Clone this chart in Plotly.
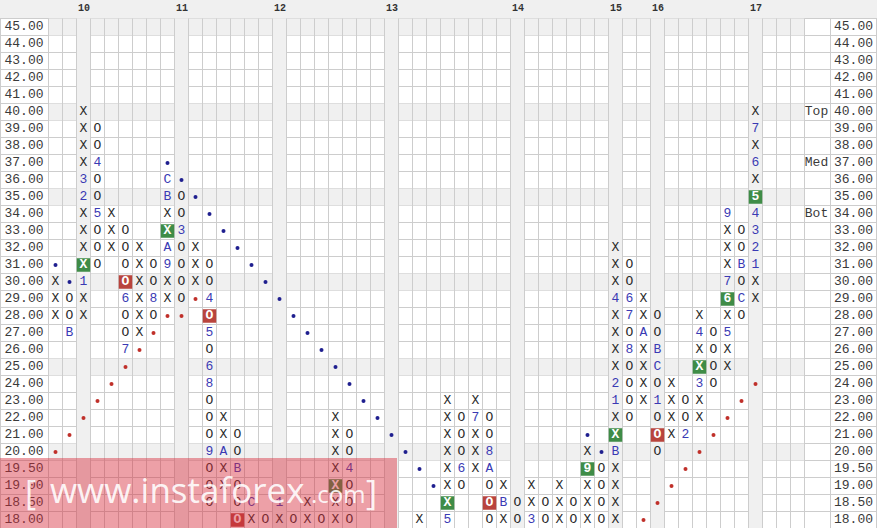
import plotly.graph_objects as go

# ---------------- data ----------------
LEVELS = [45, 44, 43, 42, 41, 40, 39, 38, 37, 36, 35, 34, 33, 32, 31, 30,
          29, 28, 27, 26, 25, 24, 23, 22, 21, 20, 19.5, 19, 18.5, 18]
LEVEL_LABELS = [f"{v:.2f}" for v in LEVELS]

# point & figure columns (column index, kind, lowest box, highest box)
COL_POS = [0, 1, 2, 3, 4, 5, 6, 7, 8, 9, 10, 11, 12, 13, 14, 15, 16, 17, 18, 19, 20, 21,
           26, 28, 29, 30, 31, 32, 33, 34, 35, 36, 37, 38, 39, 40, 41, 42, 43, 44, 45,
           46, 47, 48, 49, 50]
COL_KIND = ["X", "O", "X", "O", "X", "O", "X", "O", "X", "O", "X", "O", "X", "O", "X", "O",
            "X", "O", "X", "O", "X", "O",
            "X", "X", "O", "X", "O", "X", "O", "X", "O", "X", "O", "X", "O", "X", "O", "X",
            "O", "X", "O", "X", "O", "X", "O", "X"]
COL_LOW = [28, 27, 28, 31, 32, 26, 27, 28, 29, 29, 30, 18.5, 19, 18, 18, 18, 18, 18, 18, 18,
           18, 18, 18, 18, 19, 19.5, 18, 18, 18, 18, 18, 18, 18, 18, 18, 18, 22, 23, 20, 21,
           21, 22, 24, 25, 28, 29]
COL_HIGH = [30, 29, 40, 39, 34, 33, 32, 31, 36, 35, 32, 31, 22, 21, 18.5, 18, 18.5, 18, 18.5,
            18, 22, 21, 18, 23, 22, 23, 22, 19, 18.5, 19, 18.5, 19, 18.5, 20, 19.5, 32, 31,
            29, 28, 24, 23, 28, 27, 34, 33, 40]

# month markers (column, price, label)
MONTH_COL = [1, 2, 2, 2, 3, 3, 5, 5, 7, 8, 8, 8, 8, 9, 11, 11, 11, 11, 11, 12, 13, 14, 16,
             21, 28, 29, 30, 31, 31, 32, 34, 38, 40, 40, 40, 40, 41, 41, 41, 42, 43, 43, 43,
             45, 46, 46, 48, 48, 48, 48, 49, 49, 50, 50, 50, 50, 50, 50, 50]
MONTH_PRICE = [27, 36, 35, 30, 37, 34, 29, 26, 29, 36, 35, 32, 31, 33, 29, 27, 25, 24, 20, 20,
               19.5, 18.5, 18.5, 19.5, 18, 19.5, 22, 20, 19.5, 18.5, 18, 19.5, 20, 23, 24, 29,
               29, 28, 26, 27, 26, 25, 23, 21, 24, 27, 27, 29, 30, 34, 31, 29, 31, 32, 33, 34,
               35, 37, 39]
MONTH_TEXT = ["B", "3", "2", "1", "4", "5", "6", "7", "8", "C", "B", "A", "9", "3", "4", "5",
              "6", "8", "9", "A", "B", "C", "1", "4", "5", "6", "7", "8", "A", "B", "3", "9",
              "B", "1", "2", "4", "6", "7", "8", "A", "B", "C", "1", "2", "3", "4", "5", "6",
              "7", "9", "B", "C", "1", "2", "3", "4", "5", "6", "7"]

GREEN_COL = [2, 8, 20, 28, 38, 40, 46, 48, 50]
GREEN_PRICE = [31, 33, 19, 18.5, 19.5, 21, 25, 29, 35]
RED_COL = [5, 11, 13, 31, 43]
RED_PRICE = [30, 28, 18, 18.5, 21]

BLUE_DOT_COL = [0, 1, 8, 9, 10, 11, 12, 13, 14, 15, 16, 17, 18, 19, 20, 21, 22, 23, 24, 25,
                26, 27, 38, 39]
BLUE_DOT_PRICE = [31, 30, 37, 36, 35, 34, 33, 32, 31, 30, 29, 28, 27, 26, 25, 24, 23, 22, 21,
                  20, 19.5, 19, 21, 20]
RED_DOT_COL = [0, 1, 2, 3, 4, 5, 6, 7, 8, 9, 10, 42, 43, 44, 45, 46, 47, 48, 49, 50]
RED_DOT_PRICE = [20, 21, 22, 23, 24, 25, 26, 27, 28, 28, 29, 18, 18.5, 19, 19.5, 20, 21, 22,
                 23, 24]

YEAR_COLS = [2, 9, 16, 24, 33, 40, 43, 50]
YEAR_TEXT = ["10", "11", "12", "13", "14", "15", "16", "17"]
TAG_PRICE = [40, 37, 34]
TAG_TEXT = ["Top", "Med", "Bot"]

# ---------------- layout constants ----------------
W, H = 877, 528
N_COLS = 54
MONO = "Courier New, Liberation Mono, monospace"
GRID = "#cdcdcd"
SHADE = "#f0f0f0"
INK = "#2a2a2a"
BLUE = "#3a3ab4"
GREEN = "#3f8c47"
RED = "#b9443d"
X_RANGE = [(0 - 55.5) / 14, (W - 55.5) / 14]
Y_RANGE = [(H - 27) / 17, (0 - 27) / 17]
LEFT_X = (24 - 55.5) / 14
RIGHT_X = (853.5 - 55.5) / 14
TAG_X = (816.5 - 55.5) / 14


def lab(v):
    return f"{v:.2f}"


# build cell contents
cells = {}
for c, k, lo, hi in zip(COL_POS, COL_KIND, COL_LOW, COL_HIGH):
    for v in LEVELS:
        if lo <= v <= hi:
            cells[(c, v)] = k
months = {(c, p): t for c, p, t in zip(MONTH_COL, MONTH_PRICE, MONTH_TEXT)}
boxes = set(zip(GREEN_COL, GREEN_PRICE)) | set(zip(RED_COL, RED_PRICE))

plain_x, plain_y, plain_t = [], [], []
for (c, v), k in cells.items():
    if (c, v) in months or (c, v) in boxes:
        continue
    plain_x.append(c); plain_y.append(lab(v)); plain_t.append(k)
mon_x, mon_y, mon_t = [], [], []
for (c, v), t in months.items():
    if (c, v) in boxes:
        continue
    mon_x.append(c); mon_y.append(lab(v)); mon_t.append(t)
box_x, box_y, box_t = [], [], []
for (c, v) in boxes:
    box_x.append(c); box_y.append(lab(v)); box_t.append(months.get((c, v), cells.get((c, v), "")))

fig = go.Figure()

fig.add_trace(go.Scatter(x=GREEN_COL, y=[lab(v) for v in GREEN_PRICE], mode="markers",
                         marker=dict(symbol="square", size=13.5, color=GREEN, line=dict(width=0)),
                         hoverinfo="skip"))
fig.add_trace(go.Scatter(x=RED_COL, y=[lab(v) for v in RED_PRICE], mode="markers",
                         marker=dict(symbol="square", size=13.5, color=RED, line=dict(width=0)),
                         hoverinfo="skip"))
fig.add_trace(go.Scatter(x=plain_x, y=plain_y, text=plain_t, mode="text",
                         textfont=dict(family=MONO, size=13, color=INK), hoverinfo="skip"))
fig.add_trace(go.Scatter(x=mon_x, y=mon_y, text=mon_t, mode="text",
                         textfont=dict(family=MONO, size=13, color=BLUE), hoverinfo="skip"))
fig.add_trace(go.Scatter(x=box_x, y=box_y, text=[f"<b>{t}</b>" for t in box_t], mode="text",
                         textfont=dict(family=MONO, size=13, color="white"), hoverinfo="skip"))
fig.add_trace(go.Scatter(x=BLUE_DOT_COL, y=[lab(v) for v in BLUE_DOT_PRICE], mode="markers",
                         marker=dict(symbol="circle", size=4, color="#1f1f8f"), hoverinfo="skip"))
fig.add_trace(go.Scatter(x=RED_DOT_COL, y=[lab(v) for v in RED_DOT_PRICE], mode="markers",
                         marker=dict(symbol="circle", size=4, color="#c0302a"), hoverinfo="skip"))
# price labels
fig.add_trace(go.Scatter(x=[LEFT_X] * len(LEVELS), y=LEVEL_LABELS, text=LEVEL_LABELS, mode="text",
                         textfont=dict(family=MONO, size=13, color="#3a3a3a"), hoverinfo="skip"))
fig.add_trace(go.Scatter(x=[RIGHT_X] * len(LEVELS), y=LEVEL_LABELS, text=LEVEL_LABELS, mode="text",
                         textfont=dict(family=MONO, size=13, color="#3a3a3a"), hoverinfo="skip"))
fig.add_trace(go.Scatter(x=[TAG_X] * len(TAG_TEXT), y=[lab(v) for v in TAG_PRICE], text=TAG_TEXT,
                         mode="text", textfont=dict(family=MONO, size=13, color="#3a3a3a"),
                         hoverinfo="skip"))

shapes = []
n_rows = len(LEVELS)
# header band
shapes.append(dict(type="rect", xref="paper", yref="y", x0=0, x1=1, y0=-0.5, y1=Y_RANGE[1] - 1,
                   fillcolor=SHADE, line=dict(width=0), layer="below"))
# shaded rows
for i, v in enumerate(LEVELS):
    if v % 5 == 0:
        shapes.append(dict(type="rect", xref="x", yref="y", x0=-0.5, x1=N_COLS - 0.5,
                           y0=i - 0.5, y1=i + 0.5, fillcolor=SHADE, line=dict(width=0),
                           layer="below"))
# shaded year columns
for c in YEAR_COLS:
    shapes.append(dict(type="rect", xref="x", yref="y", x0=c - 0.5, x1=c + 0.5,
                       y0=-0.5, y1=n_rows - 0.5, fillcolor=SHADE, line=dict(width=0),
                       layer="below"))
# grid lines
vx = [c - 0.5 for c in range(N_COLS + 1)] + [(0.5 - 55.5) / 14, (830.5 - 55.5) / 14,
                                              (876.5 - 55.5) / 14]
for x in vx:
    shapes.append(dict(type="line", xref="x", yref="y", x0=x, x1=x, y0=-0.5, y1=n_rows - 0.5,
                       line=dict(color=GRID, width=1), layer="below"))
for r in range(n_rows + 1):
    shapes.append(dict(type="line", xref="paper", yref="y", x0=0, x1=1, y0=r - 0.5, y1=r - 0.5,
                       line=dict(color=GRID, width=1), layer="below"))
# watermark band
shapes.append(dict(type="rect", xref="paper", yref="paper", x0=0, x1=397 / W, y0=0,
                   y1=(H - 458) / H, fillcolor="rgba(214,45,60,0.45)", line=dict(width=0),
                   layer="above"))

annotations = []
for c, t in zip(YEAR_COLS, YEAR_TEXT):
    annotations.append(dict(x=c, y=-1.06, xref="x", yref="y", text=f"<b>{t}</b>", showarrow=False,
                            font=dict(family=MONO, size=10, color="#333333")))
WM = "rgba(255,255,255,0.9)"
annotations += [
    dict(x=30 / W, y=(H - 492) / H, xref="paper", yref="paper", text="[", showarrow=False,
         font=dict(family="Open Sans", size=34, color=WM), xanchor="center", yanchor="middle"),
    dict(x=48 / W, y=(H - 489) / H, xref="paper", yref="paper", text="www.instaforex",
         showarrow=False, font=dict(family="Open Sans", size=35, color=WM), xanchor="left",
         yanchor="middle"),
    dict(x=309 / W, y=(H - 493) / H, xref="paper", yref="paper", text=".com", showarrow=False,
         font=dict(family="Open Sans", size=24, color=WM), xanchor="left", yanchor="middle"),
    dict(x=371 / W, y=(H - 492) / H, xref="paper", yref="paper", text="]", showarrow=False,
         font=dict(family="Open Sans", size=34, color=WM), xanchor="center", yanchor="middle"),
]

fig.update_layout(
    width=W, height=H, margin=dict(l=0, r=0, t=0, b=0), autosize=False,
    paper_bgcolor="white", plot_bgcolor="white", showlegend=False,
    xaxis=dict(range=X_RANGE, visible=False, showgrid=False, zeroline=False, fixedrange=True),
    yaxis=dict(type="category", categoryorder="array", categoryarray=LEVEL_LABELS,
               range=Y_RANGE, visible=False, showgrid=False, zeroline=False, fixedrange=True),
    shapes=shapes, annotations=annotations,
)

fig.write_html("out.html", config={"displayModeBar": False, "staticPlot": True},
               post_script="document.body.style.margin='0';document.body.style.overflow='hidden';")
